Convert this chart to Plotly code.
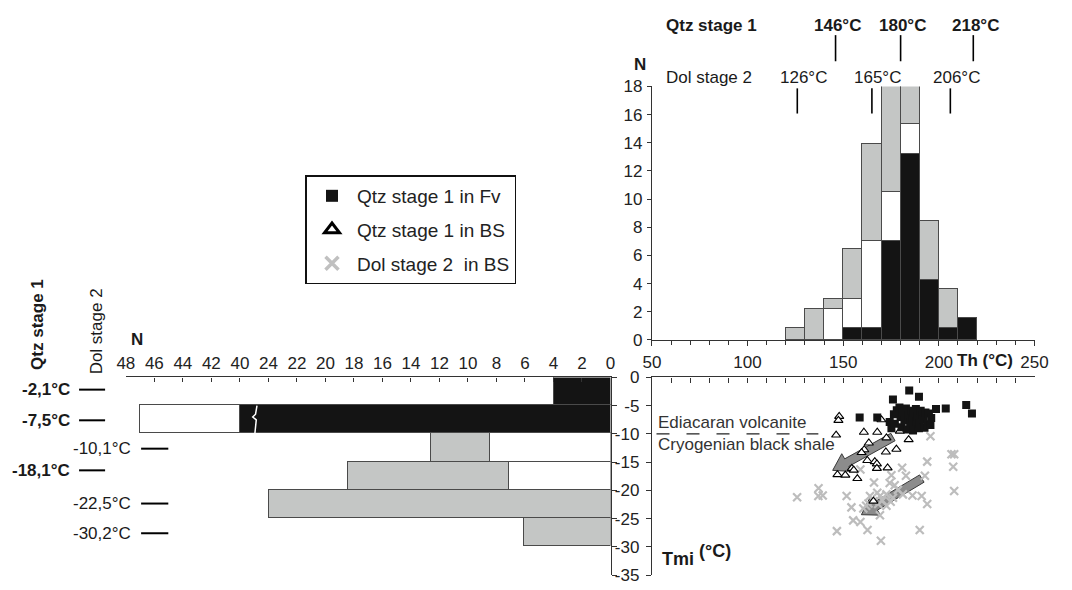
import math
import plotly.graph_objects as go

W, H = 1072, 590
FONT = "Liberation Sans, Arial, Helvetica, sans-serif"
BLACK = "#141414"
GRAY = "#c4c6c5"
WHITE = "#ffffff"
EDGE = "#4a4a4a"

# ---------------- data ----------------
# Top histogram: homogenisation temperature Th (deg C), 10 deg bins (left edges)
th_bin_left = [120, 130, 140, 150, 160, 170, 180, 190, 200, 210]
th_qtz_fv = [0, 0, 0, 0.8, 0.8, 7.0, 13.2, 4.25, 0.85, 1.5]
th_qtz_bs = [0, 0, 2.2, 2.05, 6.2, 3.45, 2.1, 0, 0, 0]
th_dol_bs = [0.8, 2.2, 0.65, 3.55, 6.9, 7.55, 2.7, 4.2, 2.75, 0]

# Left histogram: ice melting temperature Tmi (deg C), 5 deg bins (upper edges)
tmi_bin_top = [0, -5, -10, -15, -20, -25]
tmi_qtz_fv = [4, 40, 0, 0, 0, 0]
tmi_qtz_bs = [0, 7, 8.5, 7.1, 0, 0]
tmi_dol_bs = [0, 0, 4.1, 11.3, 24, 6.1]

# N axis of the left histogram is broken between 24 and 40
n_ticks_low = [0, 2, 4, 6, 8, 10, 12, 14, 16, 18, 20, 22, 24]
n_ticks_high = [40, 42, 44, 46, 48]

# Scatter Th vs Tmi
qtz_fv_th = [176.0, 184.5, 189.6, 214.3, 158.6, 167.8, 174.3, 175.2, 176.5, 177.0, 178.0, 179.4,
             180.0, 180.5, 181.0, 182.0, 182.8, 183.5, 184.0, 185.0, 185.5, 186.0, 186.5, 187.0,
             187.5, 188.0, 188.5, 189.0, 189.6, 190.0, 190.5, 191.4, 192.0, 192.5, 193.0, 194.0,
             194.8, 195.6, 196.0, 198.5, 203.6, 217.3]
qtz_fv_tmi = [-3.9, -2.3, -3.4, -4.9, -7.1, -7.1, -7.9, -9.0, -6.5, -8.2, -5.8, -5.3,
              -7.0, -8.8, -6.2, -7.6, -5.5, -9.2, -6.8, -8.0, -5.9, -7.3, -9.4, -6.3,
              -8.5, -5.6, -7.8, -6.9, -9.0, -8.1, -5.9, -6.7, -7.5, -8.9, -6.2, -8.3,
              -6.4, -8.4, -7.2, -5.6, -5.5, -6.4]

qtz_bs_th = [147.9, 147.5, 146.3, 160.8, 167.8, 170.0, 178.0, 183.7, 179.6, 184.2, 172.6, 163.4,
             161.0, 159.6, 172.3, 177.8, 162.6, 166.5, 167.6, 167.6, 173.2, 154.5, 155.5, 151.1,
             147.0, 157.4, 165.8]
qtz_bs_tmi = [-6.9, -7.6, -10.2, -9.7, -9.7, -7.5, -6.7, -6.8, -9.5, -11.0, -10.7, -11.6,
              -12.8, -13.3, -13.2, -12.7, -14.7, -14.9, -15.3, -16.1, -16.0, -16.1, -16.4, -17.3,
              -17.2, -17.9, -21.9]

dol_bs_th = [195.6, 206.6, 208.0, 193.9, 207.5, 159.0, 180.8, 175.2, 182.8, 192.7, 166.1, 174.3,
             176.9, 178.6, 137.1, 125.9, 137.0, 139.3, 151.8, 154.3, 208.0, 186.2, 191.0, 193.9,
             181.2, 167.8, 169.2, 172.6, 165.8, 163.2, 162.0, 168.3, 172.6, 169.2, 176.0, 160.5,
             164.0, 170.5, 174.8, 155.2, 159.0, 162.7, 146.7, 169.7, 190.0]
dol_bs_tmi = [-10.4, -13.6, -13.6, -14.9, -15.8, -16.3, -16.0, -17.3, -17.4, -17.4, -18.6, -18.7,
              -19.1, -19.9, -19.6, -21.2, -21.0, -20.9, -21.0, -23.0, -20.1, -20.9, -21.0, -22.4,
              -20.7, -20.4, -21.0, -20.7, -21.9, -22.3, -22.7, -22.4, -22.7, -24.4, -21.3, -23.2,
              -21.0, -21.8, -22.0, -25.3, -25.6, -27.0, -27.2, -28.9, -27.0]

# trend arrows (tail -> tip) in Th / Tmi units
arrow_tails = [(176.0, -10.55), (191.1, -17.9)]
arrow_tips = [(144.5, -16.45), (159.5, -24.3)]

# characteristic temperatures
qtz_th_marks = [146, 180, 218]
dol_th_marks = [126, 165, 206]
qtz_tmi_marks = [-2.1, -7.5, -18.1]
dol_tmi_marks = [-10.1, -22.5, -30.2]

# ---------------- layout geometry (pixels) ----------------
RX0, RX1 = 657, 1048          # right-hand plots, Th axis
TOP_Y0, TOP_Y1 = 80, 342      # top histogram (N 18 -> 0)
SC_Y0, SC_Y1 = 380.7, 585     # scatter / left histogram (Tmi 0 -> -35)
LX0, LX1 = 119.4, 614.7       # left histogram N axis (34 -> 0)
TH_RANGE = [50, 250]
TMI_RANGE = [-35, 0]


def px_x(p):
    return p / W


def px_y(p):
    return 1 - p / H


def nz(vals):
    return [v if v else None for v in vals]


# broken N axis mapping for the left histogram
def n_display(v):
    lo, hi = n_ticks_low[-1], n_ticks_high[0]
    if v <= lo:
        return v
    if v >= hi:
        return v - (hi - lo) + 2
    return lo + (v - lo) * 2 / (hi - lo)


fig = go.Figure()

# ---------- top histogram ----------
th_centers = [b + 5 for b in th_bin_left]
for vals, col in [(th_qtz_fv, BLACK), (th_qtz_bs, WHITE), (th_dol_bs, GRAY)]:
    fig.add_trace(go.Bar(x=th_centers, y=nz(vals), width=10, xaxis="x", yaxis="y",
                         marker=dict(color=col, line=dict(color=EDGE, width=1.2)),
                         showlegend=False, hoverinfo="skip"))

# ---------- left histogram ----------
tmi_centers = [t - 2.5 for t in tmi_bin_top]
seg = {"fv": [], "bs": [], "dol": []}
for a, b, c in zip(tmi_qtz_fv, tmi_qtz_bs, tmi_dol_bs):
    c0 = n_display(a)
    c1 = n_display(a + b)
    c2 = n_display(a + b + c)
    seg["fv"].append(c0)
    seg["bs"].append(c1 - c0)
    seg["dol"].append(c2 - c1)
for key, col in [("fv", BLACK), ("bs", WHITE), ("dol", GRAY)]:
    fig.add_trace(go.Bar(y=tmi_centers, x=nz(seg[key]), width=5, orientation="h",
                         xaxis="x3", yaxis="y3",
                         marker=dict(color=col, line=dict(color=EDGE, width=1.2)),
                         showlegend=False, hoverinfo="skip"))

# ---------- scatter ----------
sx = (RX1 - RX0) / (TH_RANGE[1] - TH_RANGE[0])
sy = (SC_Y1 - SC_Y0) / (TMI_RANGE[1] - TMI_RANGE[0])


def to_px(th, tmi):
    return RX0 + (th - TH_RANGE[0]) * sx, SC_Y0 + (TMI_RANGE[1] - tmi) * sy


def to_data(px, py):
    return TH_RANGE[0] + (px - RX0) / sx, TMI_RANGE[1] - (py - SC_Y0) / sy


for tail, tip in zip(arrow_tails, arrow_tips):
    tx, ty = to_px(*tail)
    hx, hy = to_px(*tip)
    L = math.hypot(hx - tx, hy - ty)
    ux, uy = (hx - tx) / L, (hy - ty) / L
    nx, ny = -uy, ux
    sw, hw, hl = 4.4, 10.5, 16.5
    bx, by = hx - ux * hl, hy - uy * hl
    pts = [(tx + nx * sw, ty + ny * sw), (bx + nx * sw, by + ny * sw), (bx + nx * hw, by + ny * hw),
           (hx, hy), (bx - nx * hw, by - ny * hw), (bx - nx * sw, by - ny * sw),
           (tx - nx * sw, ty - ny * sw), (tx + nx * sw, ty + ny * sw)]
    dpts = [to_data(p, q) for p, q in pts]
    fig.add_trace(go.Scatter(x=[d[0] for d in dpts], y=[d[1] for d in dpts], mode="lines",
                             fill="toself", fillcolor="#8c8c8c",
                             line=dict(color="#3a3a3a", width=1),
                             xaxis="x2", yaxis="y2", showlegend=False, hoverinfo="skip"))

fig.add_trace(go.Scatter(x=dol_bs_th, y=dol_bs_tmi, mode="markers", xaxis="x2", yaxis="y2",
                         marker=dict(symbol="x-thin", size=8, color="#bdbdbd",
                                     line=dict(color="#bdbdbd", width=2.2)),
                         showlegend=False, hoverinfo="skip"))
fig.add_trace(go.Scatter(x=qtz_bs_th, y=qtz_bs_tmi, mode="markers", xaxis="x2", yaxis="y2",
                         marker=dict(symbol="triangle-up", size=8, color="white",
                                     line=dict(color="black", width=1.1)),
                         showlegend=False, hoverinfo="skip"))
fig.add_trace(go.Scatter(x=qtz_fv_th, y=qtz_fv_tmi, mode="markers", xaxis="x2", yaxis="y2",
                         marker=dict(symbol="square", size=8, color=BLACK,
                                     line=dict(color=BLACK, width=0)),
                         showlegend=False, hoverinfo="skip"))

# legend-only entries (larger symbols as in the key)
fig.add_trace(go.Scatter(x=[None], y=[None], mode="markers", xaxis="x2", yaxis="y2",
                         name="Qtz stage 1 in Fv", legendgroup="a",
                         marker=dict(symbol="square", size=12, color=BLACK)))
fig.add_trace(go.Scatter(x=[None], y=[None], mode="markers", xaxis="x2", yaxis="y2",
                         name="Qtz stage 1 in BS", legendgroup="b",
                         marker=dict(symbol="triangle-up", size=13, color="white",
                                     line=dict(color="black", width=3))))
fig.add_trace(go.Scatter(x=[None], y=[None], mode="markers", xaxis="x2", yaxis="y2",
                         name="Dol stage 2\u00a0 in BS", legendgroup="c",
                         marker=dict(symbol="x-thin", size=13, color="#c0c0c0",
                                     line=dict(color="#c0c0c0", width=3.5))))

# ---------- axes ----------
tickfont = dict(family=FONT, size=17, color="#222")
axcommon = dict(showgrid=False, zeroline=False, showline=True, linecolor="#333", linewidth=1.2,
                tickcolor="#333", tickfont=tickfont, fixedrange=True)

fig.update_layout(
    xaxis=dict(domain=[px_x(RX0), px_x(RX1)], anchor="y", range=TH_RANGE,
               tickvals=[50, 100, 150, 200, 250], ticks="outside", ticklen=5,
               minor=dict(dtick=10, ticks="outside", ticklen=4, tickcolor="#333"),
               ticklabelstandoff=2, **axcommon),
    yaxis=dict(domain=[px_y(TOP_Y1), px_y(TOP_Y0)], anchor="x", range=[0, 18],
               tickvals=list(range(0, 19, 2)), ticks="outside", ticklen=4,
               ticklabelstandoff=1, **axcommon),
    xaxis2=dict(domain=[px_x(RX0), px_x(RX1)], anchor="y2", side="top", range=TH_RANGE,
                dtick=10, tick0=50, ticks="inside", ticklen=5, showticklabels=False, **axcommon),
    yaxis2=dict(domain=[px_y(SC_Y1), px_y(SC_Y0)], anchor="x2", range=TMI_RANGE,
                tickvals=list(range(0, -36, -5)), ticktext=[str(v) for v in range(0, -36, -5)],
                ticks="outside", ticklen=5, ticklabelstandoff=3, **axcommon),
    xaxis3=dict(domain=[px_x(LX0), px_x(LX1)], anchor="y3", side="top",
                range=[n_display(n_ticks_high[-1]), 0],
                tickvals=[n_display(v) for v in n_ticks_low + n_ticks_high],
                ticktext=[str(v) for v in n_ticks_low + n_ticks_high],
                ticks="inside", ticklen=4, ticklabelstandoff=1, **axcommon),
    yaxis3=dict(domain=[px_y(SC_Y1), px_y(SC_Y0)], anchor="x3", side="right", range=TMI_RANGE,
                dtick=5, ticks="outside", ticklen=5, showticklabels=False, **axcommon),
)

# ---------- shapes & annotations ----------
shapes = []
ann = []


def text(x, y, s, size=17, bold=False, xanchor="center", xref="paper", yref="paper",
         angle=0, xshift=0, color="#1a1a1a"):
    ann.append(dict(x=x, y=y, xref=xref, yref=yref, text=f"<b>{s}</b>" if bold else s,
                    showarrow=False, xanchor=xanchor, yanchor="middle", textangle=angle,
                    xshift=xshift, font=dict(family=FONT, size=size, color=color)))


def fmt(v, dec=False):
    return (f"{v:.1f}".replace(".", ",") if dec else f"{v:g}") + "°C"


# top labels: characteristic Th
text(px_x(669), px_y(17), "Qtz stage 1", bold=True, xanchor="left")
text(px_x(669), px_y(71), "Dol stage 2", xanchor="left")
text(px_x(645), px_y(57), "N", bold=True)
for v in qtz_th_marks:
    text(v, px_y(17), fmt(v), bold=True, xref="x", xshift=2)
    shapes.append(dict(type="line", xref="x", yref="paper", x0=v, x1=v,
                       y0=px_y(54), y1=px_y(27), line=dict(color="black", width=1.6)))
for v in dol_th_marks:
    text(v, px_y(71), fmt(v), xref="x", xshift=6)
    shapes.append(dict(type="line", xref="x", yref="paper", x0=v, x1=v,
                       y0=px_y(108), y1=px_y(82), line=dict(color="black", width=1.6)))

text(px_x(967), px_y(363), "Th (°C)", bold=True, xanchor="left")

# scatter annotations
shapes.append(dict(type="line", xref="x2", yref="y2", x0=52.4, x1=137, y0=-10, y1=-10,
                   line=dict(color="#222", width=1.2, dash="13px,17px")))
text(52.4, -7.9, "Ediacaran volcanite", xref="x2", yref="y2", xanchor="left", color="#333")
text(52.4, -11.9, "Cryogenian black shale", xref="x2", yref="y2", xanchor="left", color="#333")
text(px_x(665), px_y(568), "Tmi", bold=True, size=18, xanchor="left")
text(px_x(703), px_y(560), "(°C)", bold=True, size=18, xanchor="left")

# left labels
text(px_x(131), px_y(342), "N", bold=True)
text(px_x(29), px_y(326), "Qtz stage 1", bold=True, angle=-90)
text(px_x(89), px_y(333), "Dol stage 2", angle=-90)
qtz_label_py = [393.3, 425, 476.7]
dol_label_py = [454.3, 511, 541.7]
for v, py in zip(qtz_tmi_marks, qtz_label_py):
    text(px_x(64), px_y(py), fmt(v, True), bold=True, xanchor="right")
    shapes.append(dict(type="line", xref="paper", yref="paper", x0=px_x(71.6), x1=px_x(98.2),
                       y0=px_y(py), y1=px_y(py), line=dict(color="black", width=2)))
for v, py in zip(dol_tmi_marks, dol_label_py):
    text(px_x(127), px_y(py), fmt(v, True), xanchor="right")
    shapes.append(dict(type="line", xref="paper", yref="paper", x0=px_x(135), x1=px_x(162.8),
                       y0=px_y(py), y1=px_y(py), line=dict(color="black", width=2)))

# axis break mark on the long bar
bx = (n_display(n_ticks_low[-1]) + n_display(n_ticks_high[0])) / 2
shapes.append(dict(type="path", xref="x3", yref="y3", layer="above",
                   path=f"M {bx-0.2},-5 L {bx-0.1},-6.5 L {bx+0.1},-7.0 L {bx-0.15},-7.5 L {bx-0.05},-10",
                   line=dict(color="white", width=1.5)))

fig.update_layout(
    width=W, height=H, autosize=False,
    margin=dict(l=0, r=0, t=0, b=0, pad=0),
    paper_bgcolor="white", plot_bgcolor="rgba(0,0,0,0)",
    barmode="stack", bargap=0,
    font=dict(family=FONT, size=17, color="#222"),
    shapes=shapes, annotations=ann,
    showlegend=True,
    legend=dict(x=px_x(303), y=px_y(172), xanchor="left", yanchor="top",
                bordercolor="#111", borderwidth=1.5, bgcolor="white",
                font=dict(family=FONT, size=19, color="#222"),
                traceorder="grouped", tracegroupgap=6, itemwidth=40),
)

fig.write_html("out.html")
